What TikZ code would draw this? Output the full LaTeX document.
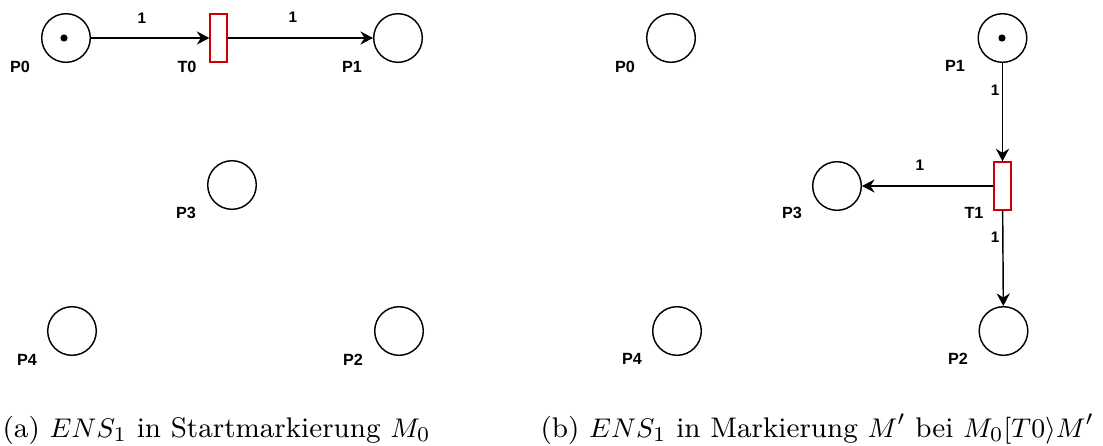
\documentclass[tikz,border=0pt]{standalone}
\usepackage{fontspec}
\newfontfamily\labfont{Liberation Sans}
\usetikzlibrary{arrows.meta}
\tikzset{
  place/.style={circle, draw=black, line width=0.48pt, minimum size=16.2pt, inner sep=0pt, fill=white},
  trans/.style={rectangle, draw={rgb,255:red,204;green,0;blue,0}, line width=0.48pt, minimum width=5.6pt, minimum height=16pt, inner sep=0pt, fill=white},
  lab/.style={font=\labfont\bfseries\fontsize{5.4}{6.5}\selectfont, inner sep=0pt, text=black},
  wlab/.style={font=\labfont\bfseries\fontsize{5.1}{6}\selectfont, inner sep=0pt, text=black},
  arc/.style={draw=black, line width=0.48pt, -{Stealth[length=4.2pt,width=4.4pt,inset=1.4pt]}},
  tok/.style={circle, fill=black, minimum size=2.4pt, inner sep=0pt},
  captext/.style={anchor=base west, inner sep=0pt, font=\fontsize{9.45}{11}\selectfont}
}
\begin{document}
\begin{tikzpicture}[x=0.33333pt,y=-0.33333pt]
\useasboundingbox (0,0) rectangle (1103,446);
% ---------- left panel ----------
\node[place] (aP0) at (66,38) {};
\node[tok] (aP0t) at (64,38) {};
\node[trans] (aT0) at (218.5,38) {};
\node[place] (aP1) at (398,38) {};
\node[place] (aP3) at (232,185) {};
\node[place] (aP4) at (72,331) {};
\node[place] (aP2) at (399,331) {};
\node[lab] (laP0) at (20,67) {P0};
\node[lab] (laT0) at (187,67) {T0};
\node[lab] (laP1) at (352,67) {P1};
\node[lab] (laP3) at (186,213) {P3};
\node[lab] (laP4) at (27,360) {P4};
\node[lab] (laP2) at (353,360) {P2};
\draw[arc] (aP0) -- (aT0);
\draw[arc] (aT0) -- (aP1);
\node[wlab] (wa1) at (142,18) {1};
\node[wlab] (wa2) at (293,17) {1};
% ---------- right panel ----------
\node[place] (bP0) at (671,38) {};
\node[place] (bP1) at (1002.5,38) {};
\node[tok] (bP1t) at (1002,38) {};
\node[trans] (bT1) at (1002.5,186) {};
\node[place] (bP3) at (837,186) {};
\node[place] (bP4) at (677,331) {};
\node[place] (bP2) at (1003.5,331) {};
\node[lab] (lbP0) at (625,67) {P0};
\node[lab] (lbP1) at (955,66) {P1};
\node[lab] (lbT1) at (974,213) {T1};
\node[lab] (lbP3) at (792,213) {P3};
\node[lab] (lbP4) at (632,359) {P4};
\node[lab] (lbP2) at (958,359) {P2};
\draw[arc] (bP1) -- (bT1);
\draw[arc] (bT1) -- (bP3);
\draw[arc] (bT1) -- (bP2);
\node[wlab] (wb1) at (995,90) {1};
\node[wlab] (wb2) at (920,165) {1};
\node[wlab] (wb3) at (995,237) {1};
% ---------- captions ----------
\node[captext] (capa) at (2,437) {(a) $ENS_1$ in Startmarkierung $M_0$};
\node[captext] (capb) at (540,437) {(b) $ENS_1$ in Markierung $M'$ bei $M_0[T0\rangle M'$};
\end{tikzpicture}
\end{document}
